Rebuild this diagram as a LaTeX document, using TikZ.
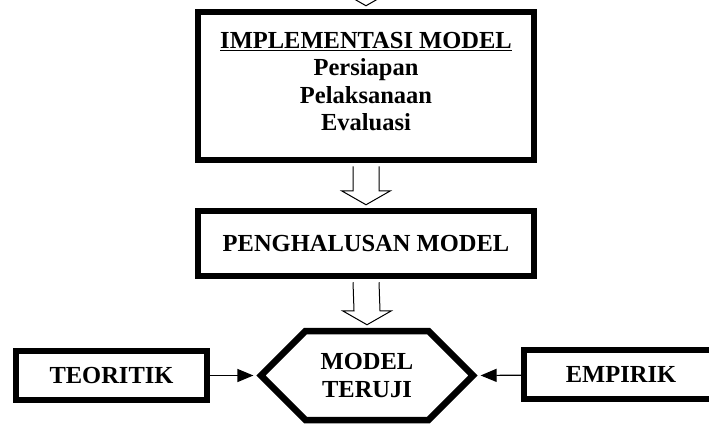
\documentclass[tikz,border=0pt]{standalone}
\usepackage{fontspec}
\setmainfont{Liberation Serif}
\usetikzlibrary{calc,arrows.meta,shapes.symbols}
\tikzset{
	kotak/.style={draw,line width=6.5pt,inner sep=0pt,align=center,font=\fontsize{24.5}{27.5}\selectfont\bfseries},
	panah/.style={draw,line width=1pt,fill=white},
	garis/.style={line width=1.2pt,-{Triangle[length=16pt,width=13pt]}},
}
\newcommand{\panahblok}[2]{
	\draw[panah] ($(#1)+(-13,3)$) -- ($(#2)+(-13,-17)$) -- ($(#2)+(-24.5,-17)$) -- ($(#2)+(0,-3)$)
		-- ($(#2)+(24.5,-17)$) -- ($(#2)+(13,-17)$) -- ($(#1)+(13,3)$);
}

\begin{document}
\begin{tikzpicture}[x=1pt,y=-1pt]
	\useasboundingbox (0,0) rectangle (709,423);
	\node[kotak,minimum width=336pt,minimum height=148pt] (impl) at (366,86) {\underline{IMPLEMENTASI MODEL}\\Persiapan\\Pelaksanaan\\Evaluasi\\[-18.5pt]};
	\node[kotak,minimum width=336pt,minimum height=65pt] (halus) at (366,243.5) {PENGHALUSAN MODEL};
	\node[kotak,signal,signal to=east and west,signal pointer angle=90,minimum width=212pt,minimum height=89pt] (uji) at (367,375.5) {MODEL\\TERUJI};
	\node[kotak,minimum width=191pt,minimum height=49pt] (teori) at (111.5,375.5) {TEORITIK};
	\node[kotak,minimum width=194pt,minimum height=49pt] (empiri) at (621,374.5) {EMPIRIK};
	\coordinate (atas) at (366,-40);
	% panah blok
	\panahblok{atas}{impl.north}
	\panahblok{impl.south}{halus.north}
	\panahblok{halus.south}{uji.north}
	% garis masuk
	\draw[garis,shorten >=3pt] (teori) -- (uji.west);
	\draw[garis,shorten >=3pt] (empiri) -- (uji.east);
\end{tikzpicture}
\end{document}
